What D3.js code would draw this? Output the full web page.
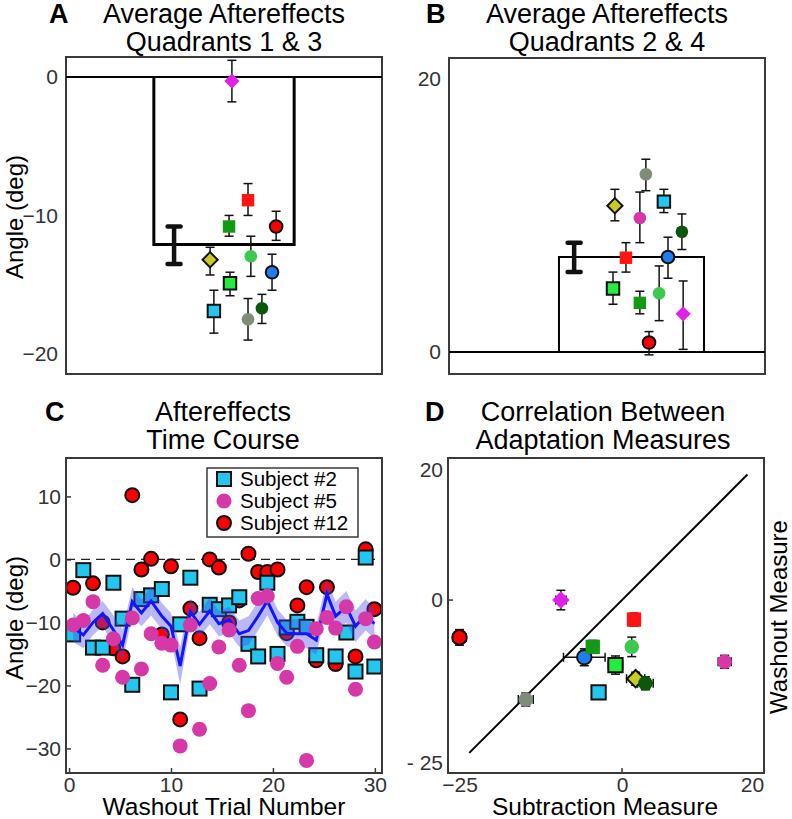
<!DOCTYPE html>
<html><head><meta charset="utf-8">
<script src="https://cdn.jsdelivr.net/npm/d3@7"></script>
<style>body{margin:0;background:#fff}svg{display:block;font-family:"Liberation Sans",Arial,Helvetica,sans-serif}</style>
</head><body><svg id="c" width="792" height="819"></svg>
<script>
// ---------- DATA ----------
// Panel A: average aftereffects, quadrants 1 & 3
const aSubjects = ["magDia","redSq","midGreenSq","redCirc","yellowDia","lightGreenCirc","blueCirc","brightGreenSq","cyanSq","darkGreenCirc","grayCirc"];
const aValues   = [-0.3,-8.9,-10.8,-10.8,-13.2,-12.95,-14.1,-14.9,-16.9,-16.7,-17.5];
const aUpper    = [1.2,-7.7,-10.0,-9.7,-12.3,-11.5,-12.8,-14.1,-15.4,-15.7,-16.0];
const aLower    = [-1.8,-10.0,-11.5,-11.8,-14.3,-14.4,-15.4,-15.8,-18.5,-17.8,-19.0];
const aJitter   = [5.25,5.76,5.16,6.65,4.56,5.85,6.52,5.19,4.68,6.2,5.76];
const aMean = -12.1, aMeanUpper = -10.8, aMeanLower = -13.5;
const aTicks = [0,-10,-20];

// Panel B: average aftereffects, quadrants 2 & 4
const bSubjects = ["grayCirc","yellowDia","cyanSq","pinkCirc","darkGreenCirc","redSq","blueCirc","brightGreenSq","lightGreenCirc","midGreenSq","magDia","redCirc"];
const bValues   = [13.0,10.7,11.0,9.8,8.8,6.9,6.95,4.65,4.3,3.6,2.8,0.7];
const bUpper    = [14.1,11.9,11.9,11.7,10.1,8.0,8.4,5.85,6.3,4.45,5.2,1.5];
const bLower    = [11.8,9.6,10.2,8.0,7.5,5.85,5.4,3.5,2.3,2.8,0.2,-0.2];
const bJitter   = [6.23,5.25,6.80,6.04,7.37,5.60,6.93,5.19,6.65,6.04,7.41,6.33];
const bMean = 6.95, bMeanUpper = 8.0, bMeanLower = 5.85;
const bTicks = [0,20];

// Panel C: time course
const trialX = [0.4,1.4,2.35,3.3,4.35,5.25,6.2,7.1,8.05,9.1,10.0,10.9,11.9,12.8,13.8,14.7,15.7,16.7,17.6,18.55,19.45,20.45,21.35,22.4,23.3,24.25,25.3,26.15,27.2,28.1,29.1,29.95];
const subj2  = [-11.9,-1.7,-14.0,-14.0,-3.7,-9.4,-19.9,-6.3,-5.7,-4.7,-21.1,-10.3,-2.9,-20.5,-7.2,-7.9,-7.3,-6.0,-13.4,-15.4,-3.7,-15.0,-10.8,-9.9,-10.7,-15.2,null,-15.4,-11.6,-17.8,0.3,-17.0];
const subj5  = [-10.4,-9.7,-6.7,-16.8,-12.6,-18.7,-9.3,-17.4,-11.8,-13.3,-13.6,-29.6,-10.4,-26.95,-19.7,-13.9,-11.2,-16.8,-24.0,-6.2,-5.8,-16.5,-18.7,-13.8,-31.9,-11.0,-9.2,-10.9,-7.5,-20.6,-9.4,-13.1];
const subj12 = [-4.5,null,-3.8,-10.0,-14.1,-15.4,10.2,-1.6,0.1,-11.9,-1.1,-25.4,-7.8,-12.5,0.0,-1.3,-10.0,-6.5,0.9,-2.0,-2.0,-1.6,-11.7,-7.3,-4.4,-16.0,-4.4,-16.6,null,-15.4,1.6,-7.9];
const meanLine = [-10.8,-12.0,-10.0,-8.6,-11.2,-13.6,-6.7,-8.5,-6.6,-9.0,-10.6,-16.9,-8.3,-10.3,-8.2,-10.2,-9.6,-11.8,-11.3,-9.0,-6.6,-10.0,-11.7,-11.8,-11.8,-12.8,-5.5,-9.0,-7.5,-10.6,-8.8,-10.2];
const meanSem  = [2.3,2.1,2.0,2.0,2.3,2.5,2.3,2.1,2.3,2.1,2.1,3.0,2.1,2.0,2.1,2.0,2.1,2.1,2.3,2.3,2.3,2.1,2.1,2.3,2.3,2.3,2.3,2.3,2.5,2.5,2.5,2.3];
const cXTicks = [0,10,20,30];
const cYTicks = [10,0,-10,-20,-30];
const legendLabels = ["Subject #2","Subject #5","Subject #12"];

// Panel D: correlation
const dSubjects = ["redCirc","magDia","grayCirc","blueCirc","midGreenSq","cyanSq","brightGreenSq","lightGreenCirc","redSq","yellowDia","darkGreenCirc","pinkCirc"];
const dSubtraction = [-25.0,-9.4,-14.8,-5.8,-4.5,-3.6,-1.0,1.5,1.85,2.1,3.6,15.8];
const dWashout     = [-5.74,0.0,-15.3,-8.8,-7.2,-14.2,-10.0,-7.2,-3.0,-12.1,-12.8,-9.5];
const dSubErr      = [1.0,0.8,1.15,3.2,0.9,0.6,1.1,0,0.9,1.4,1.2,1.0];
const dWashErr     = [1.2,1.5,1.0,1.3,1.0,0.8,1.4,1.5,1.0,1.0,1.0,1.0];
const dIdentity = [-23.5,19.3];
const dXTicks = [-25,0,20];
const dYTicks = [20,0,-25];

// ---------- STYLE ----------
const markerStyle = {
  cyanSq:{fill:"#22c6ee",shape:"square",stroke:true},
  pinkCirc:{fill:"#d638a8",shape:"circle",stroke:false},
  redCirc:{fill:"#ff0000",shape:"circle",stroke:true},
  magDia:{fill:"#e022e8",shape:"diamond",stroke:false},
  redSq:{fill:"#ff1414",shape:"square",stroke:false},
  midGreenSq:{fill:"#129a14",shape:"square",stroke:false},
  brightGreenSq:{fill:"#22ee40",shape:"square",stroke:true},
  yellowDia:{fill:"#c8cc22",shape:"diamond",stroke:true},
  lightGreenCirc:{fill:"#3dc850",shape:"circle",stroke:false},
  blueCirc:{fill:"#1e7ef0",shape:"circle",stroke:true},
  darkGreenCirc:{fill:"#0b570b",shape:"circle",stroke:false},
  grayCirc:{fill:"#7f8c7a",shape:"circle",stroke:false}
};
const svg = d3.select("#c");
const FRAME = "#3a3a3a", TICKC = "#333";
const TITLE_FS = 27, TICK_FS = 21, LABEL_FS = 24;

function marker(g, key, x, y, s=1){
  const st = markerStyle[key];
  let path, rot = 0;
  if(st.shape==="circle") path = d3.symbol(d3.symbolCircle, 125*s*s)();
  else if(st.shape==="square") path = d3.symbol(d3.symbolSquare, 155*s*s)();
  else { path = d3.symbol(d3.symbolSquare, 115*s*s)(); rot = 45; }
  g.append("path").attr("d",path)
    .attr("transform",`translate(${x},${y}) rotate(${rot})`)
    .attr("fill",st.fill)
    .attr("stroke",st.stroke?"#111":"none").attr("stroke-width",st.stroke?2:0);
}
function vErr(g,x,y1,y2,cap=8,w=1.5){
  g.append("line").attr("x1",x).attr("x2",x).attr("y1",y1).attr("y2",y2).attr("stroke","#111").attr("stroke-width",w);
  [y1,y2].forEach(y=>g.append("line").attr("x1",x-cap/2).attr("x2",x+cap/2).attr("y1",y).attr("y2",y).attr("stroke","#111").attr("stroke-width",w).attr("stroke-linecap",w>3?"round":"butt"));
}
function hErr(g,y,x1,x2,cap=8,w=1.5){
  g.append("line").attr("y1",y).attr("y2",y).attr("x1",x1).attr("x2",x2).attr("stroke","#111").attr("stroke-width",w);
  [x1,x2].forEach(x=>g.append("line").attr("y1",y-cap/2).attr("y2",y+cap/2).attr("x1",x).attr("x2",x).attr("stroke","#111").attr("stroke-width",w));
}
function frame(f){
  svg.append("rect").attr("x",f.x0).attr("y",f.y0).attr("width",f.x1-f.x0).attr("height",f.y1-f.y0)
    .attr("fill","none").attr("stroke",FRAME).attr("stroke-width",2);
}
function title(letter, lx, cx, lines, y0){
  svg.append("text").attr("x",lx).attr("y",y0).attr("font-size",TITLE_FS).attr("font-weight","bold").text(letter);
  lines.forEach((t,i)=>svg.append("text").attr("x",cx).attr("y",y0+28*i).attr("text-anchor","middle").attr("font-size",TITLE_FS).text(t));
}
function yLabel(x,cy,t){
  svg.append("text").attr("transform",`translate(${x},${cy}) rotate(-90)`).attr("text-anchor","middle").attr("font-size",LABEL_FS).text(t);
}
function styleTicks(g){
  g.select(".domain").remove();
  g.selectAll("line").attr("stroke",FRAME).attr("stroke-width",1.5);
  g.selectAll("text").attr("font-size",TICK_FS).attr("fill",TICKC).attr("font-family","Liberation Sans, Arial");
}

// ---------- PANEL A ----------
const fA={x0:66,y0:57,x1:382,y1:374};
const xA=d3.scaleLinear().domain([0,10]).range([fA.x0,fA.x1]);
const yA=d3.scaleLinear().domain([-21.45,1.44]).range([fA.y1,fA.y0]);
title("A",49,224,["Average Aftereffects","Quadrants 1 & 3"],23);
yLabel(23,217,"Angle (deg)");
frame(fA);
const gA=svg.append("g");
gA.append("g").attr("transform",`translate(${fA.x0-5},0)`)
  .call(d3.axisLeft(yA).tickValues(aTicks).tickSize(0).tickFormat(d3.format("d"))).call(styleTicks);
gA.append("path").attr("d",`M${xA(2.78)},${yA(0)}V${yA(aMean)}H${xA(7.22)}V${yA(0)}`)
  .attr("fill","none").attr("stroke","#000").attr("stroke-width",3);
gA.append("line").attr("x1",fA.x0).attr("x2",fA.x1).attr("y1",yA(0)).attr("y2",yA(0)).attr("stroke","#000").attr("stroke-width",2);
vErr(gA,xA(3.42),yA(aMeanUpper),yA(aMeanLower),13,4.5);
aSubjects.forEach((k,i)=>{ vErr(gA,xA(aJitter[i]),yA(aUpper[i]),yA(aLower[i]),9,1.5); });
aSubjects.forEach((k,i)=>marker(gA,k,xA(aJitter[i]),yA(aValues[i])));

// ---------- PANEL B ----------
const fB={x0:449,y0:58,x1:765,y1:374};
const xB=d3.scaleLinear().domain([0,10]).range([fB.x0,fB.x1]);
const yB=d3.scaleLinear().domain([-1.6,21.5]).range([fB.y1,fB.y0]);
title("B",426,607,["Average Aftereffects","Quadrants 2 & 4"],23);
frame(fB);
const gB=svg.append("g");
gB.append("g").attr("transform",`translate(${fB.x0-5},0)`)
  .call(d3.axisLeft(yB).tickValues(bTicks).tickSize(0).tickFormat(d3.format("d"))).call(styleTicks);
gB.append("path").attr("d",`M${xB(3.48)},${yB(0)}V${yB(bMean)}H${xB(8.07)}V${yB(0)}`)
  .attr("fill","none").attr("stroke","#000").attr("stroke-width",2);
gB.append("line").attr("x1",fB.x0).attr("x2",fB.x1).attr("y1",yB(0)).attr("y2",yB(0)).attr("stroke","#000").attr("stroke-width",2);
vErr(gB,xB(3.96),yB(bMeanUpper),yB(bMeanLower),13,4.5);
bSubjects.forEach((k,i)=>{ vErr(gB,xB(bJitter[i]),yB(bUpper[i]),yB(bLower[i]),9,1.5); });
bSubjects.forEach((k,i)=>marker(gB,k,xB(bJitter[i]),yB(bValues[i])));

// ---------- PANEL C ----------
const fC={x0:66,y0:458,x1:382,y1:773};
const xC=d3.scaleLinear().domain([-0.3,30.7]).range([fC.x0,fC.x1]);
const yC=d3.scaleLinear().domain([-33.9,16.1]).range([fC.y1,fC.y0]);
title("C",45,223,["Aftereffects","Time Course"],421);
yLabel(23,618,"Angle (deg)");
svg.append("text").attr("x",224).attr("y",815).attr("text-anchor","middle").attr("font-size",24.5).text("Washout Trial Number");
const gC=svg.append("g");
gC.append("g").attr("transform",`translate(${fC.x0},0)`)
  .call(d3.axisLeft(yC).tickValues(cYTicks).tickSizeInner(-5).tickSizeOuter(0).tickPadding(5).tickFormat(d3.format("d"))).call(styleTicks);
gC.append("g").attr("transform",`translate(0,${fC.y1})`)
  .call(d3.axisBottom(xC).tickValues(cXTicks).tickSizeInner(-5).tickSizeOuter(0).tickPadding(4).tickFormat(d3.format("d"))).call(styleTicks);
gC.append("line").attr("x1",fC.x0).attr("x2",fC.x1).attr("y1",yC(0)).attr("y2",yC(0)).attr("stroke","#222").attr("stroke-width",1.2).attr("stroke-dasharray","9,6");
svg.append("clipPath").attr("id","clipC").append("rect").attr("x",fC.x0).attr("y",fC.y0).attr("width",fC.x1-fC.x0).attr("height",fC.y1-fC.y0);
const gCd = gC.append("g").attr("clip-path","url(#clipC)");
subj12.forEach((v,i)=>{ if(v!==null) gCd.append("circle").attr("cx",xC(trialX[i])).attr("cy",yC(v)).attr("r",7).attr("fill","#ff0000").attr("stroke","#111").attr("stroke-width",2); });
subj2.forEach((v,i)=>{ if(v!==null) gCd.append("rect").attr("x",xC(trialX[i])-7).attr("y",yC(v)-7).attr("width",14).attr("height",14).attr("fill","#22c6ee").attr("stroke","#111").attr("stroke-width",2); });
const bandData = trialX.map((x,i)=>({x,m:meanLine[i],s:meanSem[i]}));
gCd.append("path").datum(bandData)
  .attr("d",d3.area().x(d=>xC(d.x)).y0(d=>yC(d.m-d.s)).y1(d=>yC(d.m+d.s)))
  .attr("fill","rgba(70,70,235,0.38)");
gCd.append("path").datum(bandData)
  .attr("d",d3.line().x(d=>xC(d.x)).y(d=>yC(d.m)))
  .attr("fill","none").attr("stroke","#1414ff").attr("stroke-width",3);
subj5.forEach((v,i)=>{ if(v!==null) gCd.append("circle").attr("cx",xC(trialX[i])).attr("cy",yC(v)).attr("r",7.5).attr("fill","#d638a8"); });
frame(fC);
// legend
const lg = svg.append("g");
lg.append("rect").attr("x",207).attr("y",468).attr("width",151).attr("height",69).attr("fill","#fff").attr("stroke",FRAME).attr("stroke-width",1.5);
legendLabels.forEach((t,i)=>{
  const cy = 479+22*i;
  if(i===0) lg.append("rect").attr("x",224-7).attr("y",cy-7).attr("width",14).attr("height",14).attr("fill","#22c6ee").attr("stroke","#111").attr("stroke-width",2);
  else if(i===1) lg.append("circle").attr("cx",224).attr("cy",cy).attr("r",7.5).attr("fill","#d638a8");
  else lg.append("circle").attr("cx",224).attr("cy",cy).attr("r",7).attr("fill","#ff0000").attr("stroke","#111").attr("stroke-width",2);
  lg.append("text").attr("x",240).attr("y",cy+7).attr("font-size",20.5).text(t);
});

// ---------- PANEL D ----------
const fD={x0:448,y0:458,x1:764,y1:773};
const xD=d3.scaleLinear().domain([-26.77,21.85]).range([fD.x0,fD.x1]);
const yD=d3.scaleLinear().domain([-26.6,21.85]).range([fD.y1,fD.y0]);
title("D",425,603,["Correlation Between","Adaptation Measures"],421);
frame(fD);
svg.append("text").attr("transform",`translate(787,617) rotate(-90)`).attr("text-anchor","middle").attr("font-size",LABEL_FS).text("Washout Measure");
svg.append("text").attr("x",605).attr("y",815).attr("text-anchor","middle").attr("font-size",24.5).text("Subtraction Measure");
const gD=svg.append("g");
gD.append("g").attr("transform",`translate(${fD.x0-1},0)`)
  .call(d3.axisLeft(yD).tickValues(dYTicks).tickSizeInner(0).tickSizeOuter(0).tickPadding(4).tickFormat(d=>d===-25?"- 25":String(d))).call(styleTicks);
gD.append("g").attr("transform",`translate(0,${fD.y1})`)
  .call(d3.axisBottom(xD).tickValues(dXTicks).tickSizeInner(0).tickSizeOuter(0).tickPadding(4).tickFormat(d3.format("d"))).call(styleTicks);
gD.append("line").attr("x1",xD(0)).attr("x2",xD(0)).attr("y1",fD.y1).attr("y2",fD.y1-5).attr("stroke",FRAME).attr("stroke-width",1.5);
gD.append("line").attr("x1",fD.x0).attr("x2",fD.x0+5).attr("y1",yD(0)).attr("y2",yD(0)).attr("stroke",FRAME).attr("stroke-width",1.5);
gD.append("line").attr("x1",xD(dIdentity[0])).attr("y1",yD(dIdentity[0])).attr("x2",xD(dIdentity[1])).attr("y2",yD(dIdentity[1]))
  .attr("stroke","#000").attr("stroke-width",2);
dSubjects.forEach((k,i)=>{
  const x=xD(dSubtraction[i]), y=yD(dWashout[i]);
  if(dWashErr[i]>0) vErr(gD,x,yD(dWashout[i]+dWashErr[i]),yD(dWashout[i]-dWashErr[i]),9,1.5);
  if(dSubErr[i]>0) hErr(gD,y,xD(dSubtraction[i]-dSubErr[i]),xD(dSubtraction[i]+dSubErr[i]),9,1.5);
});
dSubjects.forEach((k,i)=>marker(gD,k,xD(dSubtraction[i]),yD(dWashout[i]),1.15));
</script></body></html>
